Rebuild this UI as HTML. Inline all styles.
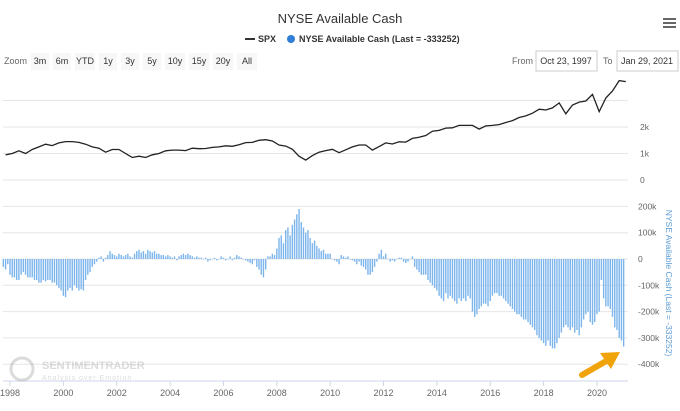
<!DOCTYPE html>
<html><head><meta charset="utf-8"><style>
body{margin:0;background:#fff;font-family:"Liberation Sans",sans-serif;}
svg{display:block}
</style></head><body>
<svg id="c" width="680" height="411" xmlns="http://www.w3.org/2000/svg" font-family="Liberation Sans, sans-serif">
<text x="340" y="23" text-anchor="middle" font-size="13" fill="#333">NYSE Available Cash</text>
<g fill="#666"><rect x="663" y="18" width="13" height="2"/><rect x="663" y="22" width="13" height="2"/><rect x="663" y="26" width="13" height="2"/></g>
<g><rect x="245" y="38" width="10" height="2" fill="#333"/><text x="258" y="42" font-size="9" font-weight="bold" fill="#333">SPX</text></g>
<g><circle cx="291" cy="39" r="4" fill="#2f7ed8"/><text x="299" y="42" font-size="9" font-weight="bold" fill="#333">NYSE Available Cash (Last = -333252)</text></g>
<text x="4" y="64" font-size="9" fill="#666">Zoom</text>
<g id="zb"></g>
<text x="512" y="64" font-size="9" fill="#666">From</text>
<rect x="536" y="51" width="61" height="20" fill="#fff" stroke="#ccc"/>
<text x="566" y="64" font-size="9" fill="#333" text-anchor="middle">Oct 23, 1997</text>
<text x="603" y="64" font-size="9" fill="#666">To</text>
<rect x="617" y="51" width="61" height="20" fill="#fff" stroke="#ccc"/>
<text x="647" y="64" font-size="9" fill="#333" text-anchor="middle">Jan 29, 2021</text>
<g id="grid"></g>
<g id="bars"></g>
<path id="spx" fill="none" stroke="#222" stroke-width="1.3"/>
<line x1="3" x2="628" y1="381" y2="381" stroke="#ccd6eb"/>
<g id="xt"></g>
<text transform="translate(666,283) rotate(90)" font-size="8.5" fill="#5b9bd5" text-anchor="middle">NYSE Available Cash (Last = -333252)</text>
<g opacity="0.35"><circle cx="22" cy="369" r="11" fill="none" stroke="#999" stroke-width="3"/><text x="42" y="369" font-size="11" fill="#999" font-weight="bold">SENTIMENTRADER</text><text x="42" y="380" font-size="7" fill="#999" letter-spacing="1">Analysis over Emotion</text></g>
<g><line x1="582" y1="375" x2="608" y2="360" stroke="#f0a30a" stroke-width="6" stroke-linecap="round"/><polygon points="620,352 600,353 611,369" fill="#f0a30a"/></g>
</svg>
<script>
const zoomLabels=["3m","6m","YTD","1y","3y","5y","10y","15y","20y","All"];
const xTicks=[1998,2000,2002,2004,2006,2008,2010,2012,2014,2016,2018,2020];
const spxTicks=[0,1000,2000,3000];
const spxTickLabels=["0","1k","2k",""];
const cashTicks=[200,100,0,-100,-200,-300,-400];
const cashTickLabels=["200k","100k","0","-100k","-200k","-300k","-400k"];
// cash monthly (thousands), starting Oct 1997
const cash=[-30,-40,-20,
-60,-70,-70,-80,-80,-60,-50,-60,-70,-70,-70,-80,
-80,-90,-90,-80,-85,-80,-80,-90,-90,-100,-110,-120,
-140,-145,-120,-110,-120,-100,-110,-120,-115,-120,-80,-60,
-50,-30,-20,-10,5,10,-10,5,15,30,20,15,
10,20,15,10,15,20,10,5,20,30,35,25,
30,20,35,30,25,30,20,20,15,15,10,15,
10,5,10,-5,10,15,20,15,20,15,10,5,
10,5,5,0,5,-10,-5,0,5,-5,0,10,
5,-5,0,10,-5,5,15,10,5,0,-5,-10,
-15,-20,-5,-30,-40,-60,-70,-40,10,10,20,15,
40,80,90,60,110,120,90,130,150,170,190,140,
120,100,110,80,60,70,50,40,30,35,20,20,
20,0,-5,-10,-20,15,10,5,10,0,-5,-10,
-20,-10,-25,-30,-40,-60,-60,-50,-30,-10,20,35,
10,20,0,-10,-5,-10,0,5,5,-10,-15,-10,
0,10,-30,-40,-50,-60,-60,-60,-80,-90,-100,-110,
-120,-140,-150,-160,-130,-150,-140,-150,-160,-170,-150,-160,
-150,-160,-140,-150,-200,-220,-210,-190,-180,-170,-170,-180,
-160,-140,-130,-130,-140,-140,-150,-160,-170,-180,-190,-200,
-210,-210,-220,-230,-230,-240,-250,-260,-270,-290,-300,-310,
-320,-330,-310,-330,-340,-340,-320,-300,-280,-260,-250,-260,
-270,-260,-280,-270,-290,-260,-230,-210,-200,-240,-250,-240,
-210,-200,-80,-150,-180,-180,-190,-220,-260,-270,-300,-310,
-333];
// SPX quarterly, starting Q4 1997
const spx=[950,
1000,1100,1000,1150,1250,1350,1300,1400,1450,1450,1420,1350,
1250,1200,1050,1150,1150,1000,850,900,850,950,1000,1100,
1130,1130,1110,1200,1180,1190,1230,1250,1290,1270,1330,1410,
1420,1500,1520,1470,1320,1280,1160,900,750,920,1050,1110,
1160,1030,1140,1250,1320,1320,1130,1260,1400,1360,1440,1430,
1570,1610,1680,1840,1870,1960,1970,2060,2060,2060,1920,2040,
2060,2090,2170,2240,2360,2420,2520,2670,2640,2720,2910,2500,
2830,2940,2980,3230,2580,3100,3360,3750,3714];
const ns="http://www.w3.org/2000/svg";
const X=t=>10+(t-1998)*26.68;
const YS=v=>180-v*0.0265;
const YC=v=>259-v*0.263;
function mk(tag,a,p){const e=document.createElementNS(ns,tag);for(const k in a)e.setAttribute(k,a[k]);(p||document.getElementById('c')).appendChild(e);return e;}
const zb=document.getElementById('zb');
let zx=31;
zoomLabels.forEach(l=>{const w=l.length>2?20:18;
const g=mk('g',{},zb);


mk('rect',{x:zx,y:53,width:w,height:17,fill:'#f7f7f7'},g);
const t=mk('text',{x:zx+w/2,y:64,'font-size':9,fill:'#333','text-anchor':'middle'},g);t.textContent=l;zx+=w+4;});
const grid=document.getElementById('grid');
spxTicks.forEach((v,i)=>{const y=YS(v);
const ln=mk('line',{x1:3,x2:628,y1:y,y2:y,stroke:'#e6e6e6'},grid);


if(spxTickLabels[i]){const t=mk('text',{x:640,y:y+3,'font-size':8.5,fill:'#666'},grid);t.textContent=spxTickLabels[i];

}});
cashTicks.forEach((v,i)=>{const y=YC(v);
const ln=mk('line',{x1:3,x2:628,y1:y,y2:y,stroke:'#e6e6e6'},grid);


const t=mk('text',{x:638,y:y+3,'font-size':8.5,fill:'#666'},grid);t.textContent=cashTickLabels[i];

});
const bars=document.getElementById('bars');
cash.forEach((v,i)=>{const t=1997+9/12+i/12;const x=X(t);const y0=YC(0),y1=YC(v);
const r=mk('rect',{x:x-0.7,y:Math.min(y0,y1),width:1.4,height:Math.max(0.5,Math.abs(y1-y0)),fill:'#7cb5ec'},bars);

});
let d='';spx.forEach((v,i)=>{const t=1997+10/12+i*0.25;d+=(i?'L':'M')+X(Math.min(t,2021.08)).toFixed(1)+','+YS(v).toFixed(1);});
document.getElementById('spx').setAttribute('d',d);
const xt=document.getElementById('xt');
xTicks.forEach(y=>{const x=X(y);mk('line',{x1:x,x2:x,y1:381,y2:386,stroke:'#ccd6eb'},xt);
const t=mk('text',{x:x,y:396,'font-size':9,fill:'#666','text-anchor':'middle'},xt);t.textContent=y;

});
</script>
</body></html>
